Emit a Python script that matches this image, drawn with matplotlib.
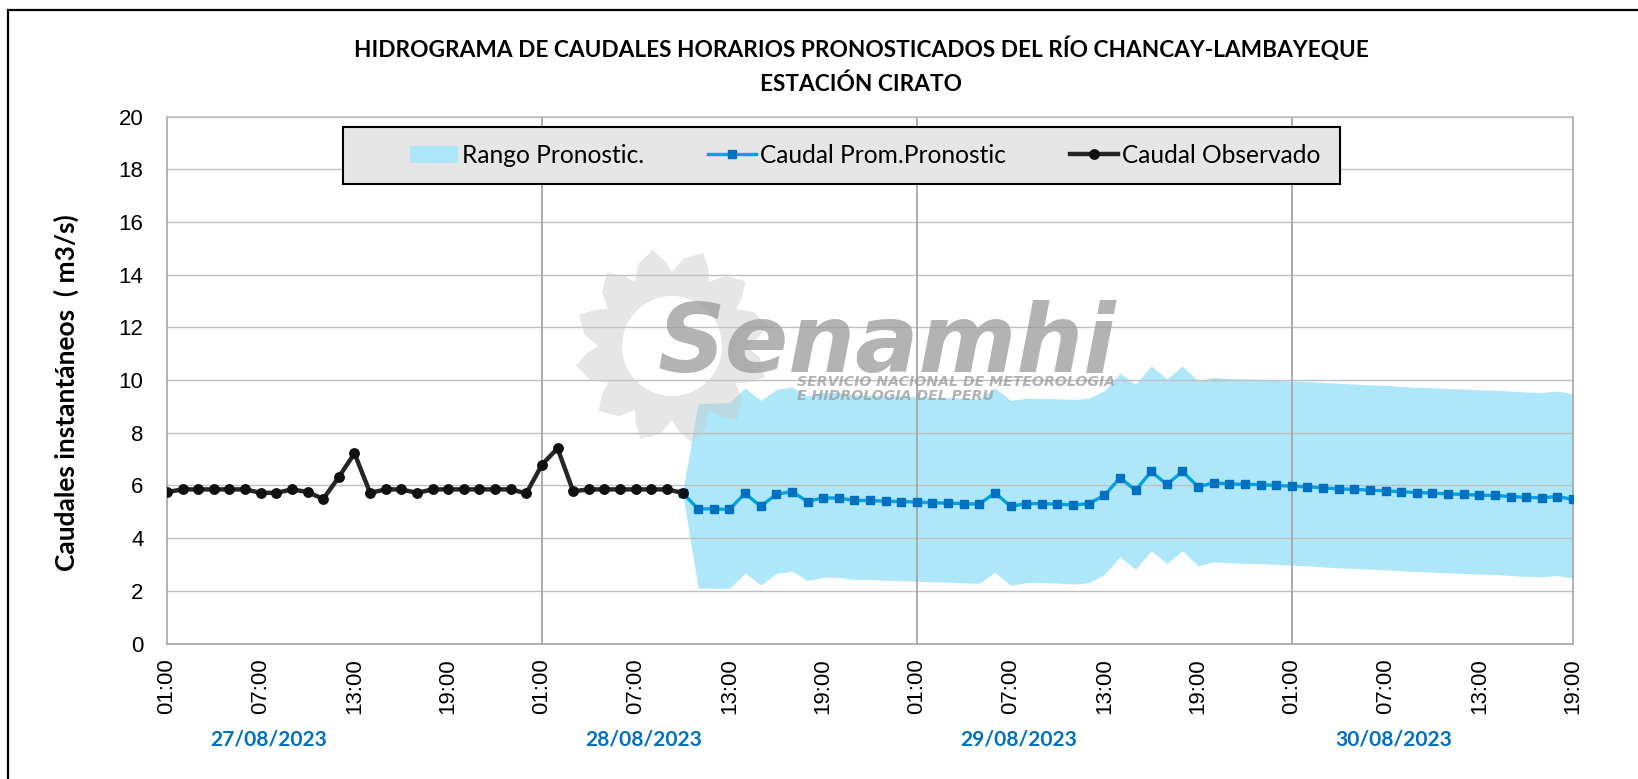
import numpy as np
import matplotlib
matplotlib.use("Agg")
import matplotlib.pyplot as plt
from matplotlib.patches import Rectangle, PathPatch
from matplotlib.path import Path
import matplotlib.transforms as mtransforms

W, H, DPI = 1638, 779, 100

# ---------------- data ----------------
title_lines = ["HIDROGRAMA DE CAUDALES HORARIOS PRONOSTICADOS DEL RÍO CHANCAY-LAMBAYEQUE",
               "ESTACIÓN CIRATO"]
y_label = "Caudales instantáneos  ( m3/s)"
hour_labels = ["01:00", "07:00", "13:00", "19:00"]
date_labels = ["27/08/2023", "28/08/2023", "29/08/2023", "30/08/2023"]
legend_labels = ["Rango Pronostic.", "Caudal Prom.Pronostic", "Caudal Observado"]

# hourly observed discharge from 27/08/2023 01:00
observed = [5.75, 5.85, 5.85, 5.85, 5.85, 5.85, 5.72, 5.72, 5.85, 5.75,
            5.49, 6.32, 7.22, 5.72, 5.85, 5.85, 5.72, 5.85, 5.85, 5.85,
            5.85, 5.85, 5.85, 5.70, 6.79, 7.41, 5.78, 5.85, 5.85, 5.85,
            5.85, 5.85, 5.85, 5.72]

# forecast (hour index 33 = 28/08 10:00 onward)
forecast_start = 33
forecast_mean = [5.72, 5.11, 5.11, 5.09, 5.70, 5.21, 5.66, 5.77, 5.39, 5.53,
                 5.52, 5.43, 5.43, 5.40, 5.39, 5.37, 5.34, 5.33, 5.31, 5.29,
                 5.72, 5.21, 5.31, 5.31, 5.29, 5.26, 5.31, 5.62, 6.29, 5.82,
                 6.53, 6.04, 6.53, 5.95, 6.10, 6.06, 6.04, 6.03, 6.00, 5.97,
                 5.95, 5.91, 5.87, 5.85, 5.82, 5.80, 5.76, 5.73, 5.71, 5.68,
                 5.66, 5.63, 5.62, 5.58, 5.55, 5.53, 5.58, 5.47]
forecast_upper = [5.72, 9.12, 9.12, 9.15, 9.70, 9.23, 9.64, 9.74, 9.40, 9.53,
                  9.52, 9.44, 9.43, 9.40, 9.40, 9.37, 9.35, 9.33, 9.31, 9.29,
                  9.70, 9.23, 9.31, 9.30, 9.29, 9.27, 9.31, 9.60, 10.27, 9.84,
                  10.54, 10.05, 10.53, 9.97, 10.10, 10.06, 10.04, 10.03, 10.00, 9.97,
                  9.95, 9.91, 9.88, 9.85, 9.82, 9.80, 9.76, 9.73, 9.71, 9.68,
                  9.66, 9.63, 9.62, 9.58, 9.55, 9.53, 9.58, 9.48]
forecast_lower = [5.72, 2.10, 2.10, 2.09, 2.68, 2.22, 2.65, 2.75, 2.39, 2.52,
                  2.51, 2.43, 2.43, 2.40, 2.39, 2.37, 2.34, 2.33, 2.30, 2.29,
                  2.70, 2.21, 2.31, 2.31, 2.29, 2.26, 2.31, 2.62, 3.28, 2.82,
                  3.52, 3.04, 3.52, 2.95, 3.10, 3.06, 3.04, 3.03, 3.00, 2.97,
                  2.95, 2.91, 2.87, 2.85, 2.82, 2.80, 2.76, 2.73, 2.71, 2.68,
                  2.66, 2.63, 2.62, 2.58, 2.55, 2.53, 2.58, 2.48]

n_hours = forecast_start + len(forecast_mean) - 1   # 90

calibri = ['Lato', 'DejaVu Sans']
arial = ['Liberation Sans', 'DejaVu Sans']

fig = plt.figure(figsize=(W / DPI, H / DPI), dpi=DPI)
fig.patch.set_facecolor('white')
renderer = fig.canvas.get_renderer()


def fit(txt, target, dim='w'):
    bb = txt.get_window_extent(renderer=renderer)
    cur = bb.width if dim == 'w' else bb.height
    txt.set_fontsize(txt.get_fontsize() * target / cur)
    return txt.get_fontsize()


# outer frame (only left/top visible)
fig.add_artist(Rectangle((8 / W, -0.1), 1.3, (1 - 10 / H) + 0.1, transform=fig.transFigure,
                         fill=False, edgecolor='black', lw=1.6, zorder=0))

ax = fig.add_axes([167 / W, 1 - 643.5 / H, (1573 - 167) / W, (643.5 - 116.7) / H])
ax.set_facecolor('white')

xo = np.arange(len(observed))
xf = forecast_start + np.arange(len(forecast_mean))

band = ax.fill_between(xf, forecast_lower, forecast_upper, color='#AEE7FA', lw=0, zorder=1)
fc_line, = ax.plot(xf, forecast_mean, color='#00A3E0', lw=2.4, marker='s', ms=5.3,
                   mfc='#0070C0', mec='#0070C0', zorder=3)
obs_line, = ax.plot(xo, observed, color='#262626', lw=3.2, marker='o', ms=6.8,
                    mfc='#111111', mec='#111111', zorder=4)

ax.set_xlim(0, n_hours)
ax.set_ylim(0, 20)

# horizontal grid
ax.set_yticks(np.arange(0, 21, 2))
ax.yaxis.grid(True, color='#bfbfbf', lw=1.0)
ax.set_axisbelow('line')
# day boundaries
for d in range(24, n_hours, 24):
    ax.axvline(d, color='#a6a6a6', lw=1.3, zorder=1.6)

xt = np.arange(0, n_hours + 1, 6)
ax.set_xticks(xt)
ax.set_xticklabels([hour_labels[k % 4] for k in range(len(xt))], rotation=90,
                   family=arial, fontsize=16)
ax.set_xticks(np.arange(0, n_hours, 12), minor=True)
ax.tick_params(axis='x', which='major', length=0, pad=10.5)
ax.tick_params(axis='x', which='minor', length=5, color='#a6a6a6', width=1.2)
ax.tick_params(axis='y', length=0, pad=17, labelsize=16)
for lab in ax.get_yticklabels():
    lab.set_family(arial)

for s in ax.spines.values():
    s.set_color('#a6a6a6')
    s.set_linewidth(1.2)
ax.spines['top'].set_color('#bfbfbf')

# date labels
trans = mtransforms.blended_transform_factory(ax.transData, fig.transFigure)
dts = []
for k, d in enumerate(date_labels):
    t = ax.text(6.5 + 24 * k, 1 - 739 / H, d, transform=trans, ha='center', va='center',
                color='#0070C0', fontweight='bold', family=calibri, fontsize=16)
    dts.append(t)
dfs = fit(dts[0], 117)
for t in dts:
    t.set_fontsize(dfs)

# title
t1 = fig.text(861 / W, 1 - 49 / H, title_lines[0], ha='center', va='center',
              fontweight='bold', family=calibri, fontsize=16)
tfs = fit(t1, 1012)
fig.text(861 / W, 1 - 84 / H, title_lines[1], ha='center', va='center',
         fontweight='bold', family=calibri, fontsize=tfs)

# y label
yl = fig.text(66 / W, 1 - 393 / H, y_label, rotation=90, ha='center', va='center',
              fontweight='bold', family=calibri, fontsize=16)
fit(yl, 358, 'h')

# legend
probe = fig.text(0, 0, legend_labels[1], family=calibri, fontsize=16)
lfs = fit(probe, 247)
probe.set_text(legend_labels[0])
w0 = probe.get_window_extent(renderer=renderer).width
probe.set_text(legend_labels[1])
w1 = probe.get_window_extent(renderer=renderer).width
probe.remove()
fs_px = lfs * DPI / 72
hl_px, pad_px = 48, 3.5
cs = ((705 - (410 + hl_px + pad_px + w0)) + (1070 - (705 + hl_px + pad_px + w1))) / 2

ax.add_patch(Rectangle((343 / W, 1 - 184 / H), (1340 - 343) / W, 57 / H,
                       transform=fig.transFigure, facecolor='#e6e6e6', edgecolor='black',
                       lw=1.5, zorder=6, clip_on=False))
leg = ax.legend(handles=[band, fc_line, obs_line], labels=legend_labels, ncol=3,
                loc='center left', bbox_to_anchor=(410 / W, 1 - 155.5 / H),
                bbox_transform=fig.transFigure, frameon=False, borderpad=0,
                borderaxespad=0, handlelength=hl_px / fs_px, handletextpad=pad_px / fs_px,
                columnspacing=cs / fs_px, prop={'family': calibri, 'size': lfs})
leg.set_zorder(7)

# ---------------- watermark (Senamhi logo) ----------------
def to_fig(px, py):
    return px / W, 1 - py / H

cx, cy = 672, 346
n_rays = 12
R_tip, R_val, R_hole = 98, 74, 50
verts, codes = [], []
step = 2 * np.pi / n_rays
pts = []
for k in range(n_rays):
    a = k * step
    pts.append((R_val, a))
    pts.append((R_val + 0.6 * (R_tip - R_val), a + 0.25 * step))
    pts.append((R_tip, a + 0.62 * step))
    pts.append((R_val + 0.45 * (R_tip - R_val), a + 0.85 * step))
for i, (r, a) in enumerate(pts):
    verts.append(to_fig(cx + r * np.cos(a), cy + r * np.sin(a)))
    codes.append(Path.MOVETO if i == 0 else Path.LINETO)
verts.append(verts[0]); codes.append(Path.CLOSEPOLY)
th = np.linspace(0, -2 * np.pi, 60)
for i, a in enumerate(th):
    verts.append(to_fig(cx + R_hole * np.cos(a), cy + R_hole * np.sin(a)))
    codes.append(Path.MOVETO if i == 0 else Path.LINETO)
verts.append(verts[-60]); codes.append(Path.CLOSEPOLY)
fig.add_artist(PathPatch(Path(verts, codes), transform=fig.transFigure,
                         facecolor='#c8c8c8', edgecolor='none', alpha=0.45, zorder=5))

wm = fig.text(887 / W, 1 - 372 / H, "Senamhi", ha='center', va='baseline',
              fontweight='bold', style='italic', family=['DejaVu Sans'],
              color='#9a9a9a', alpha=0.75, fontsize=40, zorder=6)
fit(wm, 458)
s1 = fig.text(797 / W, 1 - 382 / H, "SERVICIO NACIONAL DE METEOROLOGIA", ha='left', va='center',
              fontweight='bold', style='italic', family=['DejaVu Sans'],
              color='#9a9a9a', alpha=0.75, fontsize=8, zorder=6)
sfs = fit(s1, 319)
fig.text(797 / W, 1 - 396 / H, "E HIDROLOGIA DEL PERU", ha='left', va='center',
         fontweight='bold', style='italic', family=['DejaVu Sans'],
         color='#9a9a9a', alpha=0.75, fontsize=sfs, zorder=6)

fig.savefig("out.png", dpi=DPI)
